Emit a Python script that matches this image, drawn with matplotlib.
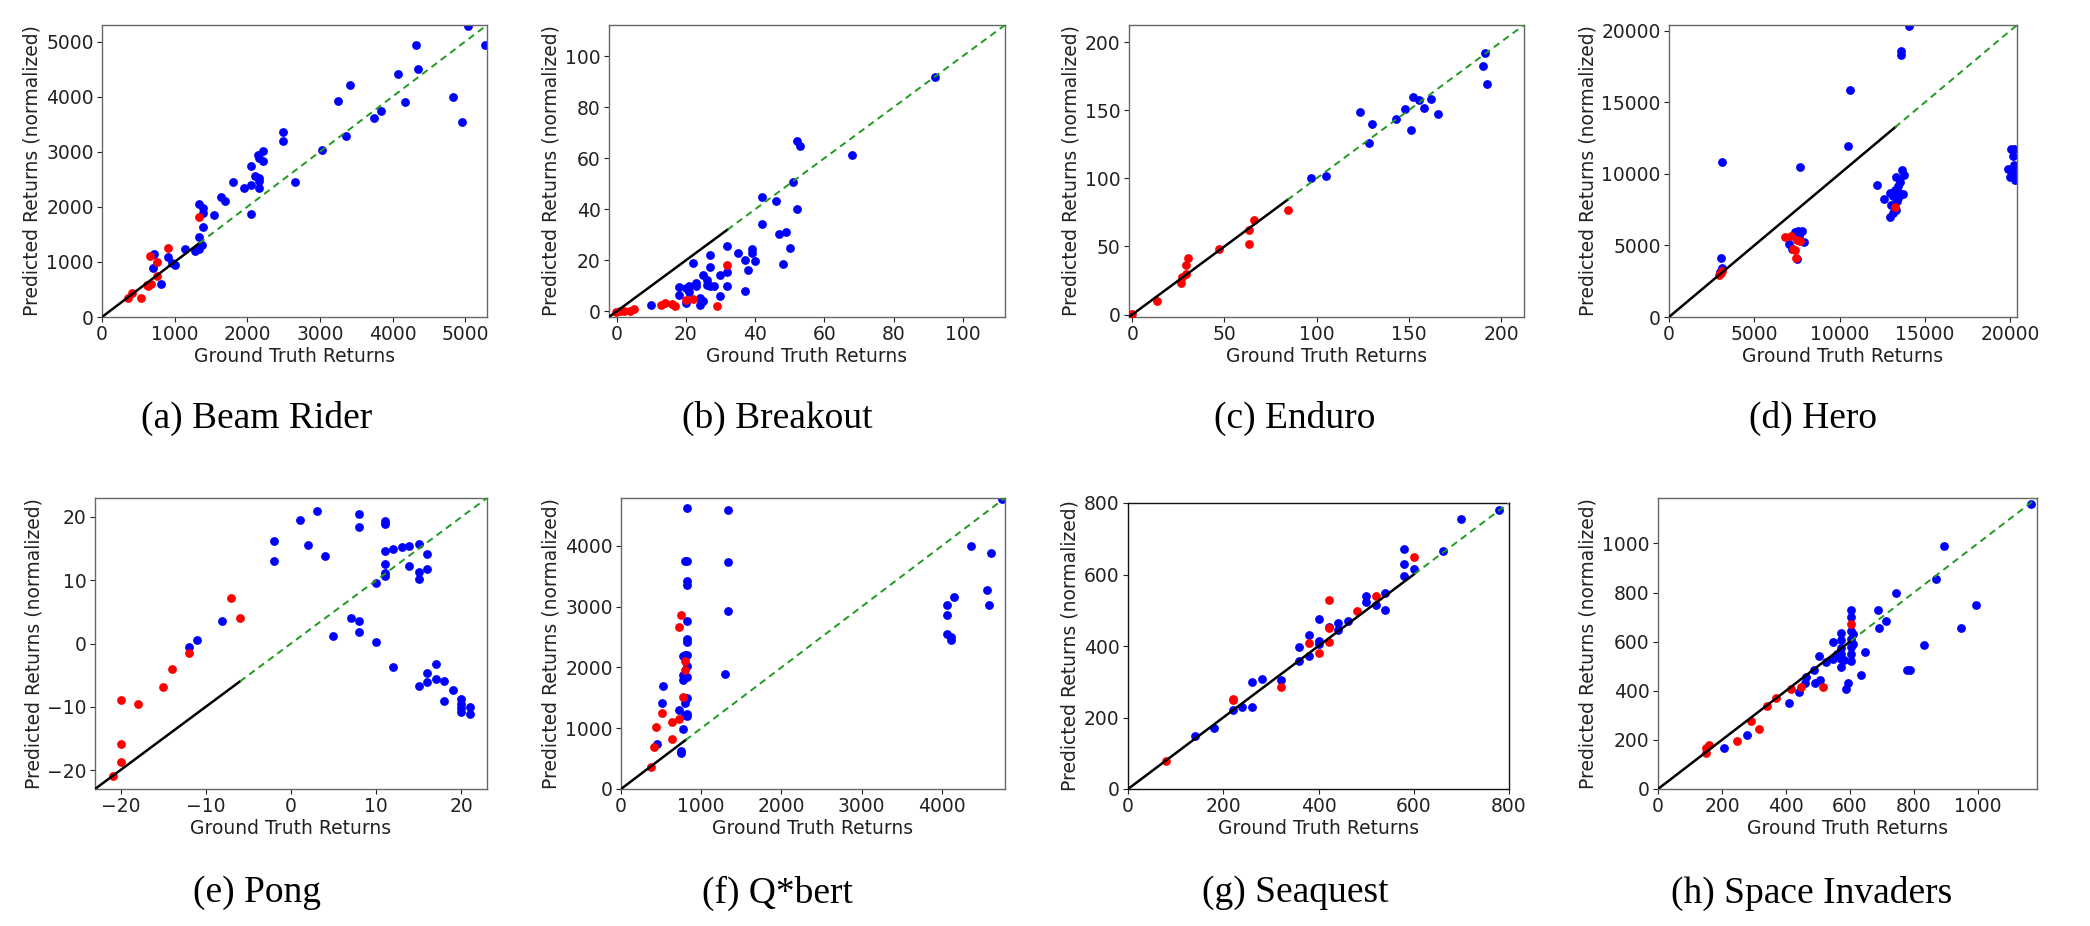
import matplotlib
matplotlib.use("Agg")
import matplotlib.pyplot as plt

# ---------------- data ----------------
titles = ["(a) Beam Rider", "(b) Breakout", "(c) Enduro", "(d) Hero",
          "(e) Pong", "(f) Q*bert", "(g) Seaquest", "(h) Space Invaders"]

# (a) Beam Rider
a_red_x = [354, 409, 533, 624, 670, 661, 762, 762, 909, 1336, 638]
a_red_y = [353, 444, 353, 578, 596, 1113, 991, 742, 1247, 1819, 560]
a_blue_x = [712, 707, 813, 905, 960, 1001, 1148, 1286, 1336, 1377, 1336, 1387, 1336, 1387, 1387,
            1538, 1639, 1694, 1800, 1952, 2057, 2057, 2057, 2112, 2162, 2162, 2162, 2153, 2162,
            2217, 2217, 2498, 2498, 2663, 3030, 3251, 3365, 3416, 3751, 3834, 4077, 4169, 4316,
            4348, 4830, 4949, 5032, 5275]
a_blue_y = [1144, 882, 590, 1095, 973, 943, 1241, 1204, 1235, 1308, 1460, 1636, 2044, 1977, 1886,
            1849, 2178, 2111, 2445, 2336, 2390, 2737, 1873, 2555, 2530, 2476, 2342, 2944, 2877,
            3011, 2828, 3358, 3193, 2457, 3035, 3923, 3291, 4203, 3619, 3747, 4410, 3911, 4933,
            4507, 3996, 3534, 5280, 4933]

# (b) Breakout
b_red_x = [-0.2, 0.9, 2, 4, 5, 12.9, 14, 16, 17, 20, 22, 29, 32]
b_red_y = [-0.3, 0, 0, 0.3, 0.9, 2.6, 3.1, 3.0, 2.2, 4.6, 4.7, 2.0, 18.3]
b_blue_x = [10, 18, 18, 20, 20.1, 21, 21, 22, 23, 23, 24, 24, 25, 25, 26, 26, 27, 27, 27, 28,
            30, 30, 32, 32, 32, 35, 37, 37, 38, 39, 39, 40, 42, 42, 46, 47, 49, 50, 48, 51, 52,
            52, 53, 68, 92]
b_blue_y = [2.4, 9.5, 6.4, 3.1, 9.0, 9.8, 7.6, 19, 9.8, 11.1, 5.2, 2.4, 4.2, 14.2, 12.4, 10.5,
            22, 17.3, 9.8, 10.1, 14.2, 6.1, 25.6, 15.4, 9.8, 22.9, 20.3, 7.8, 16.1, 24.4, 22.9,
            19.9, 44.8, 34.2, 43.1, 30.3, 31.1, 24.7, 18.7, 50.6, 40.1, 66.7, 64.8, 61.3, 91.9]

# (c) Enduro
c_red_x = [0, 13.2, 26.3, 26.9, 29.2, 29.2, 30.1, 47.2, 63.5, 63.3, 66.2, 84.2]
c_red_y = [0.2, 9.8, 23, 27.7, 29.7, 36.3, 41.4, 47.8, 62, 51.5, 69.1, 76.5]
c_blue_x = [97, 105.1, 123.4, 128.4, 130.2, 143, 148.2, 151.3, 152.2, 155.3, 158.2, 162.3,
            166.1, 190.1, 191.2, 192.2]
c_blue_y = [100.2, 101.7, 148.5, 126.2, 139.7, 143.6, 151, 135.3, 159.6, 157.6, 151.5, 158.3,
            147, 182.1, 192.2, 169.4]

# (d) Hero
d_red_x = [2946, 3024, 3083, 6829, 7180, 7278, 7415, 7473, 7493, 7707, 13249]
d_red_y = [2900, 3041, 3228, 5614, 5637, 4772, 4678, 4094, 5380, 5333, 7696]
d_blue_x = [3044, 3083, 3122, 2966, 7044, 7220, 7415, 7551, 7610, 7785, 7902, 7512, 7707,
            10478, 10595, 12176, 12624, 12937, 12976, 12995, 13132, 13229, 13288, 13366, 13405,
            13327, 13463, 13561, 13639, 13580, 13600, 13600, 13795, 13717, 14088, 13132, 13424,
            19863, 20000, 20059, 20156, 20195, 20254, 20293, 20117, 20215]
d_blue_y = [4117, 10830, 3439, 3158, 5076, 4749, 5918, 6011, 5637, 6035, 5263, 4047, 10480,
            11930, 15883, 9193, 8211, 8679, 7018, 7836, 8421, 8889, 9754, 8070, 9123, 7462, 8655,
            9403, 10246, 8608, 18596, 18339, 9941, 8608, 20350, 7251, 8304, 10339, 9778, 11766,
            11228, 10643, 10058, 9590, 10292, 11719]

# (e) Pong
e_red_x = [-20.9, -20, -20, -20, -18, -15, -14, -12, -7, -6]
e_red_y = [-20.9, -8.9, -15.9, -18.8, -9.5, -6.8, -4.1, -1.5, 7.2, 4.1]
e_blue_x = [-12, -11, -8.1, -2, -2, 1, 2, 3, 4, 4.9, 7, 8, 8, 8, 8, 10, 10, 11, 11, 11, 11, 11,
            11, 12, 12, 13, 13.9, 13.9, 15, 15, 15, 15, 16, 16, 16, 16, 17, 17, 17.9, 17.9, 19,
            20, 20, 20, 20, 21, 21]
e_blue_y = [-0.5, 0.6, 3.6, 16.2, 13, 19.6, 15.5, 21, 13.9, 1.2, 4, 20.4, 18.4, 3.6, 1.8, 9.5,
            0.3, 19.4, 18.9, 14.6, 12.5, 11.2, 10.7, 14.9, -3.7, 15.2, 15.4, 12.2, 15.8, 11.3,
            10.2, -6.7, 14.2, 11.7, -4.6, -6.1, -3.2, -5.6, -5.9, -9.1, -7.4, -8.7, -9.6, -10.2,
            -10.8, -10.1, -11.1]

# (f) Q*bert
f_red_x = [377, 406, 431, 506, 630, 630, 725, 725, 754, 779, 800, 804]
f_red_y = [363, 693, 1018, 1249, 820, 1095, 1150, 2663, 2867, 1508, 1953, 2102]
f_blue_x = [452, 506, 526, 725, 750, 754, 779, 779, 779, 779, 800, 800, 800, 804, 829, 829, 829,
            829, 829, 829, 829, 829, 829, 829, 829, 829, 829, 1331, 1331, 1331, 1302, 4070, 4070,
            4070, 4112, 4120, 4157, 4365, 4560, 4589, 4618, 4754]
f_blue_y = [737, 1409, 1695, 1304, 633, 594, 985, 1799, 1882, 2195, 3752, 2212, 1414, 1221, 4622,
            3747, 3422, 3362, 2773, 2470, 2421, 2212, 2019, 1843, 1497, 1238, 1194, 4594, 3741,
            2938, 1887, 3026, 2872, 2553, 2503, 2459, 3153, 4006, 3279, 3026, 3890, 4781]

# (g) Seaquest
g_red_x = [80, 220, 220, 321, 381, 401, 421, 421, 421, 480, 520, 601]
g_red_y = [79, 252, 249, 286, 408, 381, 529, 449, 410, 497, 540, 648]
g_blue_x = [141, 181, 220, 240, 260, 260, 281, 321, 360, 360, 381, 381, 401, 401, 401, 421, 441,
            441, 461, 500, 500, 520, 540, 540, 580, 580, 580, 601, 661, 700, 780]
g_blue_y = [148, 170, 220, 228, 228, 300, 307, 305, 398, 357, 432, 373, 476, 413, 405, 454, 464,
            446, 470, 541, 524, 516, 549, 501, 670, 630, 597, 614, 667, 754, 780]

# (h) Space Invaders
h_red_x = [149, 149, 160, 246, 290, 316, 340, 370, 416, 446, 517, 603]
h_red_y = [147, 166, 179, 195, 275, 245, 337, 372, 407, 414, 414, 673]
h_blue_x = [207, 277, 410, 442, 459, 463, 489, 492, 507, 502, 524, 546, 547, 560, 573, 573, 573,
            573, 573, 573, 580, 587, 594, 603, 603, 603, 603, 603, 603, 603, 610, 610, 634, 646,
            687, 692, 714, 744, 779, 789, 833, 868, 894, 946, 994, 1165]
h_blue_y = [165, 221, 349, 396, 430, 455, 486, 430, 442, 543, 518, 599, 528, 551, 635, 605, 576,
            551, 528, 497, 524, 409, 432, 728, 700, 643, 609, 578, 549, 521, 632, 591, 463, 559,
            727, 655, 686, 797, 486, 483, 585, 854, 988, 655, 750, 1160]

# axis limits (same for x and y)
limits = [(0, 5300), (-2.2, 112.2), (-1.8, 212.5), (0, 20400),
          (-23, 23), (0, 4790), (0, 800), (0, 1185)]

panels = [
    (a_red_x, a_red_y, a_blue_x, a_blue_y),
    (b_red_x, b_red_y, b_blue_x, b_blue_y),
    (c_red_x, c_red_y, c_blue_x, c_blue_y),
    (d_red_x, d_red_y, d_blue_x, d_blue_y),
    (e_red_x, e_red_y, e_blue_x, e_blue_y),
    (f_red_x, f_red_y, f_blue_x, f_blue_y),
    (g_red_x, g_red_y, g_blue_x, g_blue_y),
    (h_red_x, h_red_y, h_blue_x, h_blue_y),
]

# ---------------- layout ----------------
W, H = 2090, 926
# axes boxes in pixels: left, top, right, bottom
boxes = [(102, 25, 487, 317), (609, 25, 1005, 317), (1129, 25, 1524, 317), (1669, 25, 2017, 317),
         (95, 498, 487, 789), (621, 498, 1005, 789), (1128, 503, 1509, 789), (1658, 498, 2037, 789)]
caption_x = [257, 777, 1295, 1813, 257, 777, 1295, 1812]
caption_y = [418, 418, 418, 418, 893, 893, 893, 893]
spine_colors = ["#666666"] * 6 + ["#111111", "#666666"]

plt.rcParams['font.family'] = ['DejaVu Sans']
fig = plt.figure(figsize=(W / 100, H / 100), dpi=100)
fig.patch.set_facecolor("white")

for i, (rx, ry, bx, by) in enumerate(panels):
    l, t, r, b = boxes[i]
    ax = fig.add_axes([l / W, 1 - b / H, (r - l) / W, (b - t) / H])
    lo, hi = limits[i]
    ax.scatter(bx, by, s=40, c="blue", zorder=2, linewidths=0)
    ax.scatter(rx, ry, s=40, c="red", zorder=3, linewidths=0)
    split = max(rx)
    ax.plot([lo, split], [lo, split], color="black", lw=1.8, zorder=4)
    ax.plot([split, hi], [split, hi], color="#1f9a1f", lw=1.4, ls=(0, (3.5, 2.5)), zorder=4)
    ax.set_xlim(lo, hi)
    ax.set_ylim(lo, hi)
    ax.tick_params(labelsize=13.5, colors="#222222", pad=2.5)
    for sp in ax.spines.values():
        sp.set_color(spine_colors[i])
        sp.set_linewidth(1.0)
    ax.set_xlabel("Ground Truth Returns", fontsize=13.5, color="#222222", labelpad=2)
    ax.set_ylabel("Predicted Returns (normalized)", fontsize=13.5, color="#222222", labelpad=3)
    fig.text(caption_x[i] / W, 1 - caption_y[i] / H, titles[i], ha="center", va="center",
             fontsize=27, family="Liberation Serif", color="black")

fig.savefig("out.png", dpi=100, facecolor="white")
